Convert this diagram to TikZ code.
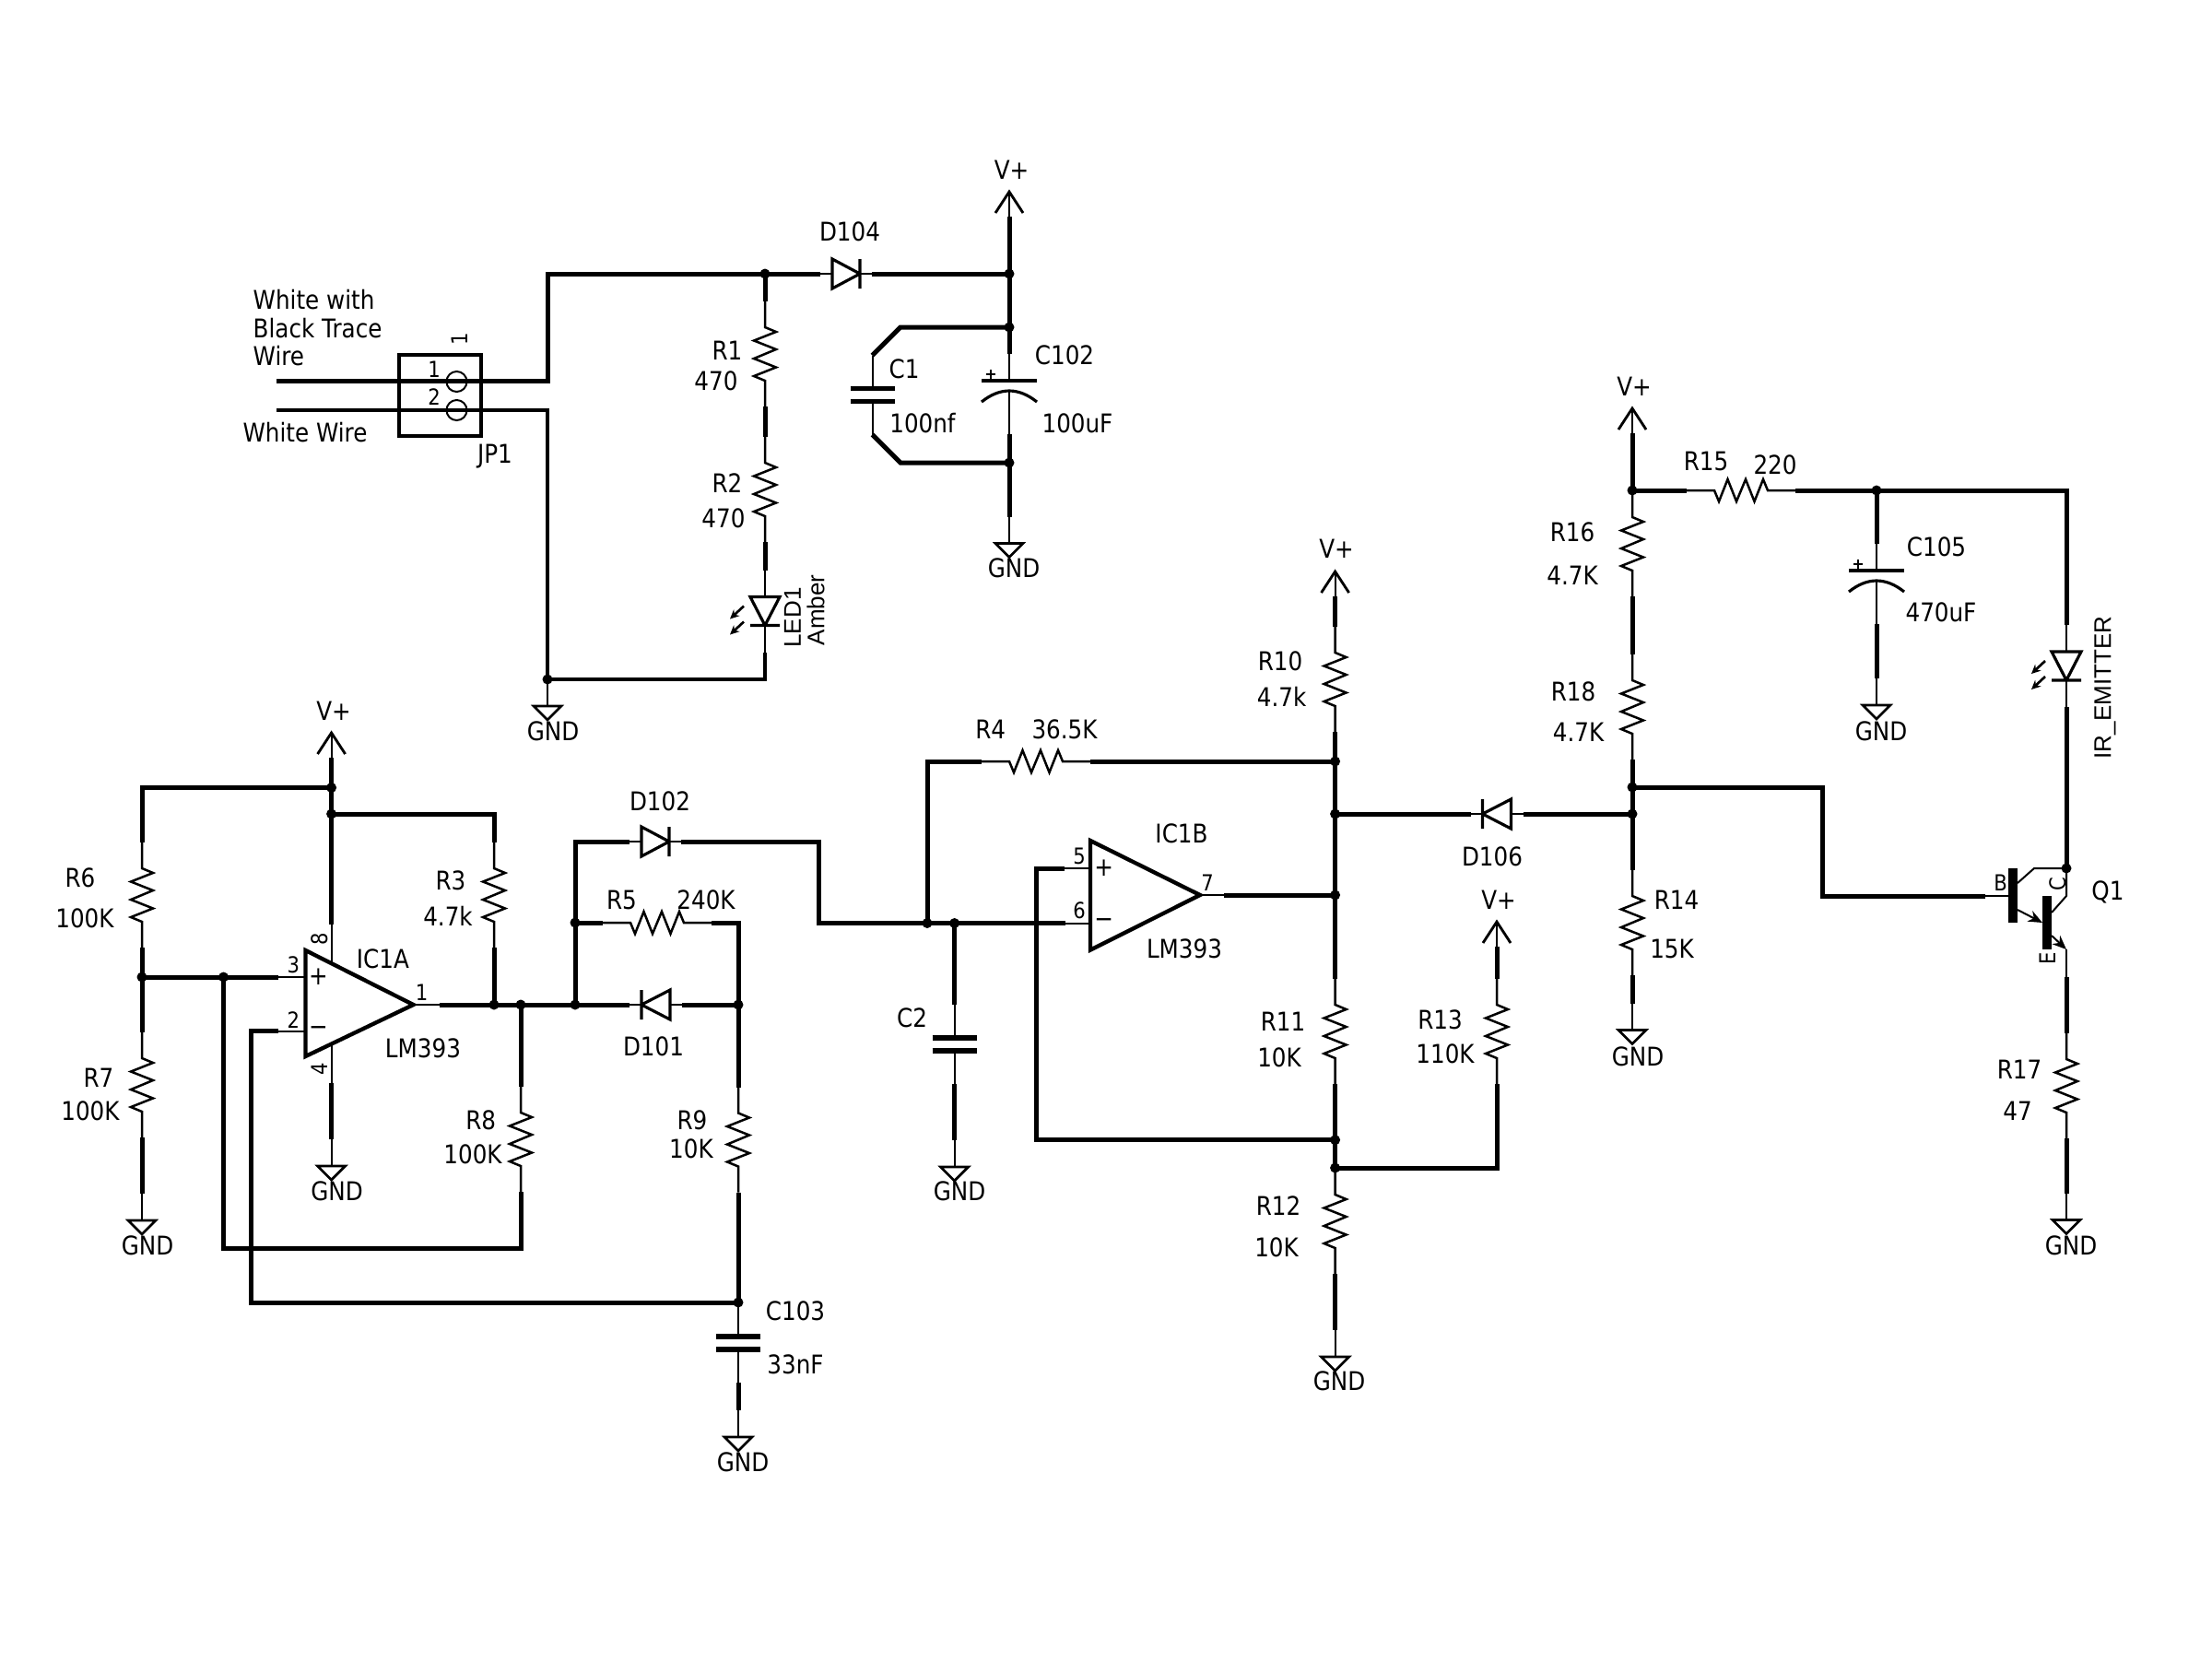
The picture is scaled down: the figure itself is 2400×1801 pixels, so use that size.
\documentclass[tikz,border=0pt]{standalone}
\usepackage{fontspec}
\setmainfont[FakeStretch=0.88]{DejaVu Sans}
\newfontfamily\arialf{Liberation Sans}
\usetikzlibrary{arrows.meta}
\tikzset{
  wire/.style={line width=1.5pt,line join=miter,line cap=butt},
  pinw/.style={line width=0.6pt,line join=miter},
  sym/.style={line width=0.95pt,line join=miter},
  plate/.style={line width=1.7pt},
  amp/.style={line width=1.3pt,line join=miter},
  lab/.style={inner sep=0pt,font=\fontsize{8.4}{10}\selectfont},
  pinlab/.style={inner sep=0pt,font=\fontsize{7.2}{9}\selectfont},
  sidelab/.style={inner sep=0pt,font=\arialf\fontsize{7.8}{9}\selectfont,rotate=90},
  resv/.pic={\draw[pinw,line width=0.75pt] (0,-28) -- (0,0) -- (12,5) -- (-12,14.5) -- (12,24) -- (-12,34) -- (12,43.5) -- (-12,53) -- (0,58) -- (0,86);
    \coordinate (-a) at (0,-28); \coordinate (-b) at (0,86);},
  resh/.pic={\draw[pinw,line width=0.75pt] (-30,0) -- (0,0) -- (5,12) -- (14.5,-12) -- (24,12) -- (34,-12) -- (43.5,12) -- (53,-12) -- (58,0) -- (88,0);
    \coordinate (-a) at (-30,0); \coordinate (-b) at (88,0);},
  dioder/.pic={\draw[pinw] (-13,0) -- (0,0) (30,0) -- (43,0);
    \draw[sym] (0,-16) -- (30,0) -- (0,16) -- cycle (30,-16) -- (30,16);
    \coordinate (-a) at (-13,0); \coordinate (-b) at (43,0);},
  diodel/.pic={\draw[pinw] (-13,0) -- (0,0) (31,0) -- (44,0);
    \draw[sym] (31,-16) -- (0,0) -- (31,16) -- cycle (0,-16) -- (0,16);
    \coordinate (-a) at (-13,0); \coordinate (-b) at (44,0);},
  ledd/.pic={\draw[pinw] (0,-29) -- (0,0) (0,31) -- (0,60);
    \draw[sym] (-16,0) -- (16,0) -- (0,31) -- cycle (-16,31) -- (16,31);
    \draw[line width=0.8pt,-{Stealth[length=3pt,width=2.8pt]}] (-23,10) -- (-38,24);
    \draw[line width=0.8pt,-{Stealth[length=3pt,width=2.8pt]}] (-23,27) -- (-38,41);
    \coordinate (-a) at (0,-29); \coordinate (-b) at (0,60);},
  capn/.pic={\draw[pinw] (0,-36) -- (0,0) (0,14) -- (0,50);
    \draw[plate] (-24,0) -- (24,0) (-24,14) -- (24,14);
    \coordinate (-a) at (0,-36); \coordinate (-b) at (0,50);},
  capp/.pic={\draw[pinw] (0,-29) -- (0,0) (0,11) -- (0,58);
    \draw[sym] (-30,0) -- (30,0);
    \draw[sym] (-30,23) .. controls (-10,7) and (10,7) .. (30,23);
    \draw[line width=0.8pt] (-25,-7) -- (-15,-7) (-20,-12) -- (-20,-2);
    \coordinate (-a) at (0,-29); \coordinate (-b) at (0,58);},
  gndp/.pic={\draw[pinw] (0,-29) -- (0,0);
    \draw[line width=0.8pt,line join=miter] (-15,0) -- (15,0) -- (0,15) -- cycle;
    \coordinate (-a) at (0,-29);},
  vcc/.pic={\draw[pinw] (0,0) -- (0,27);
    \draw[line width=0.85pt,line join=miter] (-15,23) -- (0,0) -- (15,23);
    \coordinate (-a) at (0,27);}
}
\newcommand{\lab}[4]{\node[lab] (#1) at (#2,#3) {#4};}
\newcommand{\pinl}[4]{\node[pinlab] (#1) at (#2,#3) {#4};}
\newcommand{\pinr}[4]{\node[pinlab,rotate=90] (#1) at (#2,#3) {#4};}
\newcommand{\pt}[3]{\coordinate (#1) at (#2,#3);}
\begin{document}
\begin{tikzpicture}[x=0.3pt,y=-0.3pt]
\useasboundingbox (0,0) rectangle (2400,1801);
\fill[white] (0,0) rectangle (2400,1801);
% ---------- junctions and corners
\pt{j1}{1095}{297}\pt{j2}{1095}{355}\pt{j3}{1095}{502}\pt{j4}{830}{297}\pt{j5}{594}{737}
\pt{j6}{359.6}{854.5}\pt{j7}{359.6}{883}\pt{j8}{154}{1060}\pt{j9}{242.5}{1060}
\pt{j10}{536}{1090}\pt{j11}{565}{1090}\pt{j12}{624}{1090}\pt{j13}{801}{1090}\pt{j14}{624}{1001}
\pt{j15}{1006}{1001.5}\pt{j16}{1035.6}{1001.5}\pt{j17}{801}{1413}
\pt{j18}{1448.6}{826}\pt{j19}{1448.6}{883}\pt{j20}{1448.6}{971}\pt{j21}{1448.6}{1236.7}\pt{j22}{1448.6}{1267}
\pt{j23}{1771}{883}\pt{j24}{1771}{532}\pt{j25}{1771}{854}\pt{j26}{2036}{532}\pt{j27}{2242}{942}
% ---------- components
\pic (R1) at (830,355) {resv};
\pic (R2) at (830,502) {resv};
\pic (LED1) at (830,647.5) {ledd};
\pic (D104) at (903,297) {dioder};
\pic (C1) at (946.5,421.5) {capn};
\pic (C102) at (1095,413) {capp};
\pic (V1) at (1095,208) {vcc};
\pic (G1) at (1095,589.5) {gndp};
\pic (G2) at (594,766) {gndp};
\pic (V2) at (359.6,795) {vcc};
\pic (R6) at (154,942) {resv};
\pic (R7) at (154,1148) {resv};
\pic (G3) at (154,1324) {gndp};
\pic (R3) at (536,942) {resv};
\pic (R8) at (565,1207) {resv};
\pic (G4) at (359.6,1265) {gndp};
\pic (D102) at (696,913) {dioder};
\pic (D101) at (696,1090) {diodel};
\pic (R5) at (684,1001) {resh};
\pic (R9) at (801,1207.5) {resv};
\pic (C103) at (801,1450) {capn};
\pic (G5) at (801,1559) {gndp};
\pic (C2) at (1035.6,1126) {capn};
\pic (G6) at (1035.6,1266) {gndp};
\pic (R4) at (1095,826) {resh};
\pic (V3) at (1448.6,620) {vcc};
\pic (R10) at (1448.6,708) {resv};
\pic (R11) at (1448.6,1090) {resv};
\pic (R12) at (1448.6,1296) {resv};
\pic (G7) at (1448.6,1472) {gndp};
\pic (D106) at (1608.5,883) {diodel};
\pic (V4) at (1624,1000) {vcc};
\pic (R13) at (1624,1090) {resv};
\pic (V5) at (1771,443) {vcc};
\pic (R16) at (1771,561) {resv};
\pic (R18) at (1771,738) {resv};
\pic (R14) at (1771,972) {resv};
\pic (G8) at (1771,1117.5) {gndp};
\pic (R15) at (1860,532) {resh};
\pic (C105) at (2036,619) {capp};
\pic (G9) at (2036,765) {gndp};
\pic (IR) at (2242,707) {ledd};
\pic (R17) at (2242,1149) {resv};
\pic (G10) at (2242,1323.5) {gndp};
% ---------- JP1
\pt{w1}{300}{413}\pt{w1b}{594}{413}\pt{w2}{300}{445}\pt{w2b}{594}{445}\pt{w3}{830}{737}
\pt{jpa}{433}{385}\pt{jpb}{522}{473}\pt{ca}{495.5}{414}\pt{cb}{495.5}{445}
\draw[amp] (jpa) rectangle (jpb);
\draw[pinw] (ca) circle (11) (cb) circle (11);
% ---------- wires, top
\draw[wire] (w1) -- (w1b) -- (594,297) -- (j4) -- (D104-a);
\draw[wire,line width=1.3pt] (w2) -- (w2b) -- (j5) -- (w3) -- (LED1-b);
\draw[wire] (j4) -- (R1-a);
\draw[wire] (R1-b) -- (R2-a);
\draw[wire] (R2-b) -- (LED1-a);
\draw[wire] (D104-b) -- (j1);
\draw[wire] (V1-a) -- (C102-a);
\draw[wire] (C102-b) -- (G1-a);
\pt{c1a}{977}{355}\pt{c1b}{977}{502}
\draw[wire] (j2) -- (c1a) -- (C1-a);
\draw[wire] (j3) -- (c1b) -- (C1-b);
% ---------- IC1A
\pt{a1t}{331.5}{1031}\pt{a1b}{331.5}{1146}\pt{a1o}{448.5}{1090}
\draw[amp] (a1t) -- (a1o) -- (a1b) -- cycle;
\pt{p3}{301.6}{1060}\pt{p3e}{331.5}{1060}\pt{p2}{301.6}{1118.5}\pt{p2e}{331.5}{1118.5}
\pt{p8}{359.6}{1002.6}\pt{p8e}{359.6}{1045}\pt{p4}{359.6}{1175}\pt{p4e}{359.6}{1132}\pt{p1}{476.7}{1090}
\draw[pinw] (p3) -- (p3e) (p2) -- (p2e) (p8) -- (p8e) (p4) -- (p4e) (a1o) -- (p1);
\draw[wire] (V2-a) -- (p8);
\draw[wire] (p4) -- (G4-a);
\draw[wire] (j6) -- (154,854.5) -- (R6-a);
\draw[wire] (R6-b) -- (j8) -- (R7-a);
\draw[wire] (R7-b) -- (G3-a);
\draw[wire] (j7) -- (536,883) -- (R3-a);
\draw[wire] (R3-b) -- (j10);
\draw[wire] (j8) -- (j9) -- (p3);
\draw[wire] (j9) -- (242.5,1354) -- (565,1354) -- (R8-b);
\draw[wire] (j11) -- (R8-a);
\draw[wire] (j17) -- (272,1413) -- (272,1118.5) -- (p2);
\draw[wire] (p1) -- (j10) -- (j11) -- (j12) -- (D101-a);
\draw[wire] (D101-b) -- (j13);
\draw[wire] (j12) -- (j14) -- (624,913) -- (D102-a);
\draw[wire] (j14) -- (R5-a);
\draw[wire] (R5-b) -- (801,1001) -- (j13) -- (R9-a);
\draw[wire] (R9-b) -- (j17) -- (C103-a);
\draw[wire] (C103-b) -- (G5-a);
\pt{p6}{1156}{1001.5}\pt{p6e}{1183}{1001.5}\pt{p5}{1155}{942}\pt{p5e}{1183}{942}
\draw[wire] (D102-b) -- (888.6,913) -- (888.6,1001.5) -- (j15) -- (j16) -- (p6);
% ---------- IC1B
\pt{a2t}{1183}{912}\pt{a2b}{1183}{1030.6}\pt{a2o}{1302}{971}\pt{p7}{1328}{971}
\draw[amp] (a2t) -- (a2o) -- (a2b) -- cycle;
\draw[pinw] (p6) -- (p6e) (p5) -- (p5e) (a2o) -- (p7);
\draw[wire] (j16) -- (C2-a);
\draw[wire] (C2-b) -- (G6-a);
\draw[wire] (j15) -- (1006,826) -- (R4-a);
\draw[wire] (R4-b) -- (j18);
\draw[wire] (V3-a) -- (R10-a);
\draw[wire] (R10-b) -- (j18) -- (j19) -- (j20) -- (R11-a);
\draw[wire] (R11-b) -- (j21) -- (j22);
\draw[wire] (R12-b) -- (G7-a);
\draw[wire] (p7) -- (j20);
\draw[wire] (p5) -- (1124.5,942) -- (1124.5,1236.7) -- (j21);
\draw[wire] (j19) -- (D106-a);
\draw[wire] (D106-b) -- (j23);
\draw[wire] (V4-a) -- (R13-a);
\draw[wire] (R13-b) -- (1624,1267) -- (j22);
% ---------- right part
\draw[wire] (V5-a) -- (j24);
\draw[wire] (R16-b) -- (R18-a);
\draw[wire] (R18-b) -- (j25) -- (j23) -- (R14-a);
\draw[wire] (R14-b) -- (G8-a);
\draw[wire] (j24) -- (R15-a);
\draw[wire] (R15-b) -- (j26) -- (2242,532) -- (IR-a);
\draw[wire] (j26) -- (C105-a);
\draw[wire] (C105-b) -- (G9-a);
\draw[wire] (IR-b) -- (j27);
\pt{qb}{2154}{972}
\draw[wire] (j25) -- (1977,854) -- (1977,972) -- (qb);
% ---------- Q1
\pt{qbe}{2179}{972}\pt{qe}{2242}{1030}\pt{qk}{2242}{1060}
\draw[pinw] (qb) -- (qbe);
\fill (2179,942) rectangle (2189,1001);
\fill (2216,972) rectangle (2226,1030);
\draw[pinw] (2189,958) -- (2207,942) -- (j27) -- (2242,972) -- (2226,990);
\draw[pinw,-{Stealth[length=4.6pt,width=3.8pt]}] (2189,987) -- (2216,1001);
\draw[pinw,-{Stealth[length=4.6pt,width=3.8pt]}] (2226,1015) -- (qe);
\draw[pinw] (qe) -- (qk);
\draw[wire] (qk) -- (R17-a);
\draw[wire] (R17-b) -- (G10-a);
% ---------- junction dots
\foreach \n in {j1,j2,j3,j4,j5,j6,j7,j8,j9,j10,j11,j12,j13,j14,j15,j16,j17,j18,j19,j20,j21,j22,j23,j24,j25,j26,j27}
  \fill (\n) circle (5.5);
% ---------- labels
\lab{tVa}{1097.6}{184}{V+}
\lab{tD104}{922}{251.5}{D104}
\node[lab,anchor=west] (tWa) at (274,325.5) {White with};
\node[lab,anchor=west] (tWb) at (274,356.5) {Black Trace};
\node[lab,anchor=west] (tWc) at (274,386) {Wire};
\lab{tWd}{331}{469}{White Wire}
\lab{tJP}{537}{495}{JP1}
\pinl{tJa}{471}{401}{1}
\pinl{tJb}{471}{431}{2}
\pinr{tJc}{499}{368}{1}
\lab{tR1}{789}{380}{R1}
\lab{vR1}{777}{413}{470}
\lab{tR2}{789}{524}{R2}
\lab{vR2}{785}{562.5}{470}
\node[sidelab] (tLED) at (860,670) {LED1};
\node[sidelab] (tAmb) at (885,662) {Amber};
\lab{tC1}{981}{400}{C1}
\lab{vC1}{1001}{459}{100nf}
\lab{tC102}{1155}{385}{C102}
\lab{vC102}{1169}{459}{100uF}
\lab{tG1}{1100}{616}{GND}
\lab{tG2}{600}{793}{GND}
\lab{tVb}{362}{771}{V+}
\lab{tR6}{87}{952}{R6}
\lab{vR6}{92}{996}{100K}
\lab{tR7}{107}{1169}{R7}
\lab{vR7}{98}{1205}{100K}
\lab{tG3}{160}{1351.6}{GND}
\lab{tG4}{365.6}{1292.5}{GND}
\lab{tIC1A}{415.4}{1040}{IC1A}
\lab{tLMa}{459}{1137.5}{LM393}
\pinl{n3}{318.4}{1047}{3}
\pinl{n2}{318.4}{1107}{2}
\pinl{n1}{457.7}{1077}{1}
\pinr{n8}{346.6}{1018.6}{8}
\pinr{n4}{346.6}{1160}{4}
\lab{sPa}{345.5}{1060}{+}
\lab{sMa}{345.5}{1118.5}{−}
\lab{tR3}{489}{955.5}{R3}
\lab{vR3}{486}{994}{4.7k}
\lab{tD102}{716}{869}{D102}
\lab{tD101}{709}{1135}{D101}
\lab{tR5}{674.5}{976}{R5}
\lab{vR5}{766}{976}{240K}
\lab{tR8}{521.7}{1215}{R8}
\lab{vR8}{513}{1252}{100K}
\lab{tR9}{751}{1215}{R9}
\lab{vR9}{750}{1246.6}{10K}
\lab{tC103}{863}{1422}{C103}
\lab{vC103}{863}{1480}{33nF}
\lab{tG5}{806}{1586}{GND}
\lab{tC2}{989.6}{1104.5}{C2}
\lab{tG6}{1041}{1292}{GND}
\lab{tR4}{1074.7}{791}{R4}
\lab{vR4}{1155}{791}{36.5K}
\lab{tIC1B}{1282}{904.5}{IC1B}
\lab{tLMb}{1285}{1029.4}{LM393}
\pinl{n5}{1171}{929}{5}
\pinl{n6}{1171}{988}{6}
\pinl{n7}{1310}{958}{7}
\lab{sPb}{1197.7}{942}{+}
\lab{sMb}{1197.7}{1001.5}{−}
\lab{tVc}{1450}{595.5}{V+}
\lab{tR10}{1389}{717}{R10}
\lab{vR10}{1390.6}{756}{4.7k}
\lab{tR11}{1392}{1108}{R11}
\lab{vR11}{1388}{1147}{10K}
\lab{tR12}{1387}{1308}{R12}
\lab{vR12}{1385}{1353}{10K}
\lab{tG7}{1453}{1498}{GND}
\lab{tD106}{1619}{929}{D106}
\lab{tVd}{1626}{976}{V+}
\lab{tR13}{1562.5}{1106}{R13}
\lab{vR13}{1568}{1143}{110K}
\lab{tVe}{1773}{419}{V+}
\lab{tR16}{1706}{577}{R16}
\lab{vR16}{1706}{624.5}{4.7K}
\lab{tR18}{1707}{750}{R18}
\lab{vR18}{1712.6}{794}{4.7K}
\lab{tR14}{1819}{976}{R14}
\lab{vR14}{1814}{1029.5}{15K}
\lab{tG8}{1777}{1146}{GND}
\lab{tR15}{1851}{500}{R15}
\lab{vR15}{1926}{504}{220}
\lab{tC105}{2101}{593}{C105}
\lab{vC105}{2106}{664}{470uF}
\lab{tG9}{2041}{793}{GND}
\node[sidelab,font=\arialf\fontsize{7.8}{9}\selectfont] (tIR) at (2284,746) {IR\_EMITTER};
\pinl{nB}{2170.6}{958}{B}
\pinr{nC}{2233}{959}{C}
\pinr{nE}{2221.6}{1040}{E}
\lab{tQ1}{2287}{968}{Q1}
\lab{tR17}{2191}{1160}{R17}
\lab{vR17}{2189}{1205}{47}
\lab{tG10}{2247}{1351}{GND}
\end{tikzpicture}
\end{document}
